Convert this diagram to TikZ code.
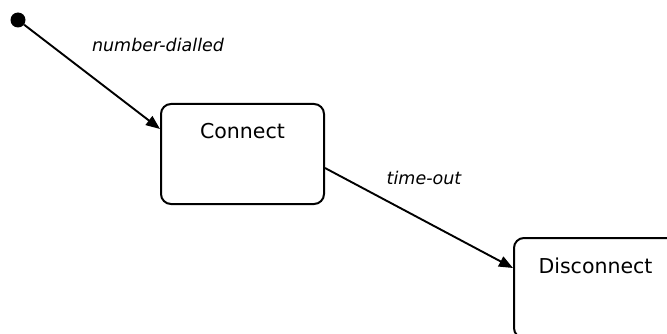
\documentclass[tikz,border=0pt]{standalone}
\usepackage{fontspec}
\setmainfont{DejaVu Sans}
\usetikzlibrary{arrows.meta}

\begin{document}
\begin{tikzpicture}[x=1pt, y=-1pt,
    state/.style={draw, line width=2pt, rounded corners=10pt, inner sep=0pt,
        minimum width=163pt, text height=35pt, text depth=65pt,
        font=\fontsize{20.5}{24}\selectfont},
    trans/.style={line width=1.9pt, -{Triangle[length=14pt, width=11pt]}},
    event/.style={font=\fontsize{17.5}{21}\selectfont\itshape}]

    % page frame, anything outside is cut off
    \useasboundingbox (0,0) rectangle (667,334);
    \clip (0,0) rectangle (667,334);

    % initial pseudo state
    \node[circle, fill, inner sep=0pt, minimum size=15pt] (init) at (18,20) {};

    % states
    \node[state, anchor=north west] (connect) at (160,103) {Connect};
    \node[state, anchor=north west] (disconnect) at (513,237) {Disconnect};

    % transitions
    \draw[trans] (init) -- ([yshift=-26pt]connect.north west);
    \draw[trans] ([yshift=-65pt]connect.north east) -- ([yshift=-31pt]disconnect.north west);

    % events
    \node[event, anchor=base] (dialled) at (158,52) {number-dialled};
    \node[event, anchor=base] (timeout) at (424,185) {time-out};

\end{tikzpicture}
\end{document}
